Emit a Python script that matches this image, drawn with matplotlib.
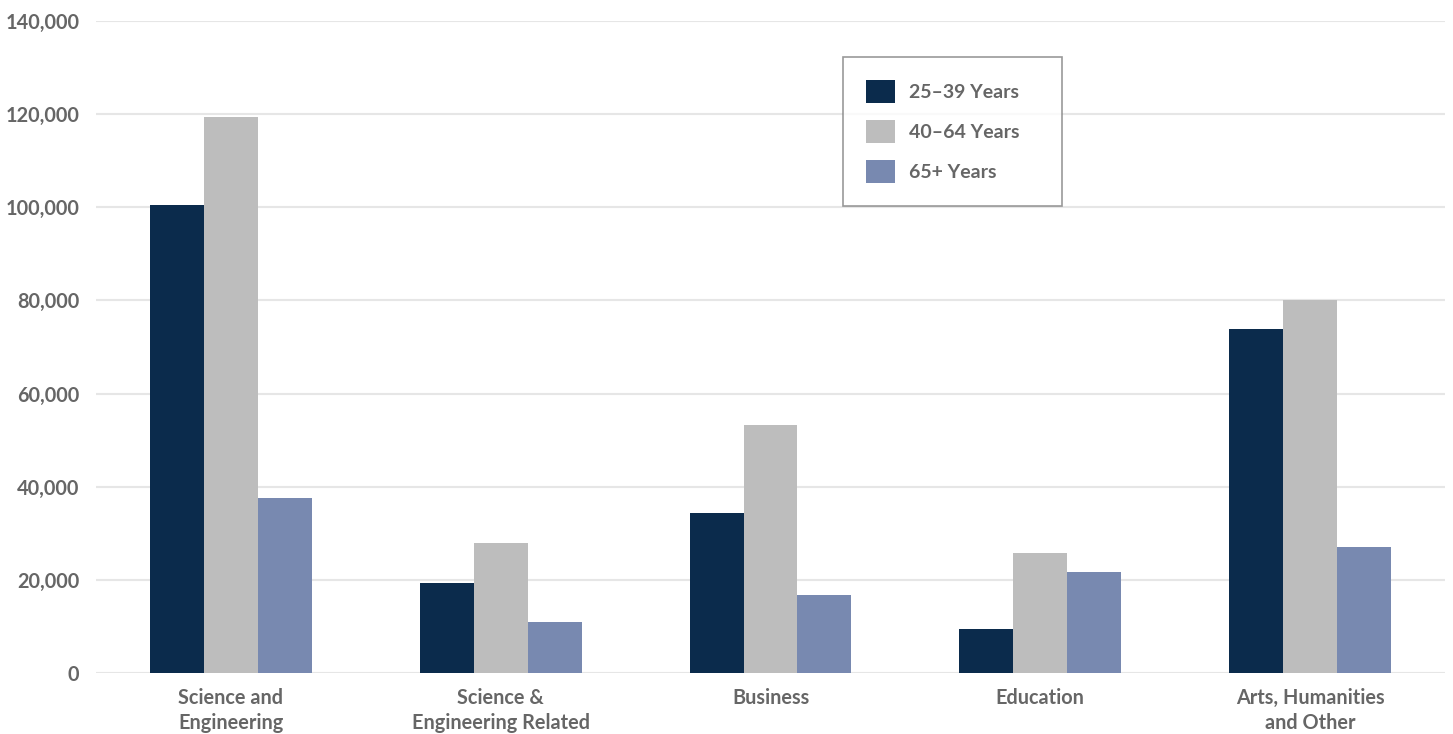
import matplotlib
matplotlib.use('Agg')
import matplotlib.pyplot as plt
import numpy as np

# Degree holders by field and age group
categories = ['Science and\nEngineering', 'Science &\nEngineering Related',
              'Business', 'Education', 'Arts, Humanities\nand Other']
series_names = ['25\u201339 Years', '40\u201364 Years', '65+ Years']
age_25_39 = [100500, 19300, 34300, 9400, 73800]
age_40_64 = [119400, 27900, 53200, 25700, 80000]
age_65_up = [37500, 10900, 16700, 21700, 27000]
y_ticks = [0, 20000, 40000, 60000, 80000, 100000, 120000, 140000]

colors = ['#0b2b4c', '#bdbdbd', '#7889b0']
text_grey = '#666666'

plt.rcParams['font.family'] = ['Lato', 'DejaVu Sans']

fig = plt.figure(figsize=(14.53, 7.34), dpi=100)
ax = fig.add_axes([96 / 1453, 1 - 673 / 734, (1445 - 96) / 1453, (673 - 21) / 734])

x = np.arange(len(categories))
w = 0.2
for i, vals in enumerate([age_25_39, age_40_64, age_65_up]):
    ax.bar(x + (i - 1) * w, vals, width=w, color=colors[i], label=series_names[i], zorder=3)

ax.set_xlim(-0.5, len(categories) - 0.5)
ax.set_ylim(0, 140000)
ax.set_yticks(y_ticks)
ax.set_yticklabels(['{:,}'.format(v) for v in y_ticks])
ax.set_xticks(x)
ax.set_xticklabels(categories, linespacing=1.3)
ax.grid(axis='y', color='#e6e6e6', linewidth=1.5, zorder=0)
for s in ax.spines.values():
    s.set_visible(False)
ax.tick_params(axis='both', length=0, colors=text_grey)
for lbl in ax.get_yticklabels():
    lbl.set_fontsize(14.3)
    lbl.set_fontweight('bold')
for lbl in ax.get_xticklabels():
    lbl.set_fontsize(14.3)
    lbl.set_fontweight('bold')
ax.tick_params(axis='y', pad=12)
ax.tick_params(axis='x', pad=11)

leg = ax.legend(loc='upper left', bbox_to_anchor=(843 / 1453, 1 - 57 / 734),
                bbox_transform=fig.transFigure, borderaxespad=0,
                fancybox=False, frameon=True, edgecolor='#808080',
                prop={'size': 14, 'weight': 'bold'},
                handlelength=1.45, handleheight=1.45, handletextpad=0.75,
                labelspacing=0.85, borderpad=1.2)
leg.get_frame().set_linewidth(1.2)
for t in leg.get_texts():
    t.set_color(text_grey)
    t.set_text(t.get_text() + '\u2003 ')

fig.savefig('out.png', dpi=100)
